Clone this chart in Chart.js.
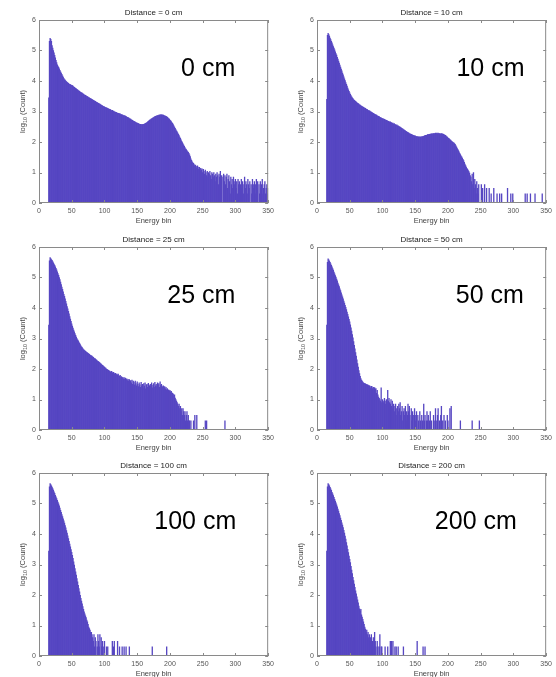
<!DOCTYPE html>
<html>
<head>
<meta charset="utf-8">
<script src="https://cdn.jsdelivr.net/npm/chart.js@4.4.0/dist/chart.umd.min.js"></script>
<style>
html, body { margin: 0; padding: 0; background: #fff; overflow: hidden; }
#wrap { position: relative; width: 556px; height: 677px; }
canvas { position: absolute; }
</style>
</head>
<body>
<div id="wrap">
  <canvas id="p0" width="278" height="226" style="left:0px;top:0px"></canvas>
  <canvas id="p1" width="278" height="226" style="left:278px;top:0px"></canvas>
  <canvas id="p2" width="278" height="226" style="left:0px;top:227px"></canvas>
  <canvas id="p3" width="278" height="226" style="left:278px;top:227px"></canvas>
  <canvas id="p4" width="278" height="226" style="left:0px;top:453px"></canvas>
  <canvas id="p5" width="278" height="226" style="left:278px;top:453px"></canvas>
</div>
<script>
// first energy bin with counts, every body array starts here
var firstBin = 15;
var xTicks = [0, 50, 100, 150, 200, 250, 300, 350];
var yTicks = [0, 1, 2, 3, 4, 5, 6];

// log10(count) per bin, 0 cm  (bins 15..350)
var counts0cm = [
 3.45, 5.30, 5.40, 5.37, 5.30,
 5.16, 5.08, 5.00, 4.92, 4.84, 4.76, 4.68, 4.60, 4.53, 4.49,
 4.45, 4.40, 4.35, 4.30, 4.26, 4.22, 4.17, 4.13, 4.09, 4.05,
 4.03, 4.00, 3.98, 3.96, 3.94, 3.92, 3.90, 3.89, 3.88, 3.87,
 3.86, 3.85, 3.83, 3.81, 3.79, 3.78, 3.76, 3.74, 3.73, 3.71,
 3.69, 3.68, 3.66, 3.64, 3.63, 3.61, 3.60, 3.58, 3.57, 3.55,
 3.54, 3.53, 3.51, 3.50, 3.49, 3.47, 3.46, 3.45, 3.43, 3.42,
 3.41, 3.40, 3.38, 3.37, 3.36, 3.34, 3.33, 3.32, 3.30, 3.29,
 3.28, 3.27, 3.25, 3.24, 3.23, 3.21, 3.20, 3.19, 3.17, 3.16,
 3.15, 3.14, 3.13, 3.12, 3.11, 3.10, 3.09, 3.08, 3.07, 3.06,
 3.05, 3.03, 3.04, 3.01, 3.01, 2.99, 2.99, 2.97, 2.97, 2.95,
 2.95, 2.94, 2.94, 2.92, 2.92, 2.90, 2.90, 2.89, 2.88, 2.87,
 2.87, 2.86, 2.85, 2.84, 2.82, 2.81, 2.80, 2.79, 2.77, 2.76,
 2.75, 2.73, 2.72, 2.71, 2.69, 2.68, 2.67, 2.65, 2.64, 2.63,
 2.62, 2.61, 2.60, 2.59, 2.58, 2.58, 2.57, 2.57, 2.57, 2.58,
 2.58, 2.59, 2.60, 2.61, 2.63, 2.64, 2.66, 2.68, 2.70, 2.72,
 2.73, 2.75, 2.76, 2.78, 2.79, 2.80, 2.82, 2.83, 2.84, 2.85,
 2.86, 2.87, 2.87, 2.88, 2.88, 2.89, 2.89, 2.89, 2.89, 2.88,
 2.88, 2.87, 2.86, 2.85, 2.84, 2.83, 2.81, 2.79, 2.77, 2.75,
 2.72, 2.70, 2.67, 2.64, 2.61, 2.57, 2.53, 2.49, 2.45, 2.41,
 2.37, 2.33, 2.29, 2.25, 2.21, 2.16, 2.12, 2.07, 2.02, 1.98,
 1.94, 1.90, 1.86, 1.82, 1.78, 1.75, 1.72, 1.69, 1.66, 1.63,
 1.58, 1.52, 1.45, 1.40, 1.35, 1.32, 1.30, 1.26, 1.22, 1.24,
 1.20, 1.15, 1.22, 1.18, 1.10, 1.17, 1.05, 1.14, 1.08, 1.12,
 1.00, 1.10, 1.04, 0.95, 1.08, 1.00, 0.90, 1.04, 0.85, 1.00,
 0.95, 1.04, 0.90, 0.78, 1.00, 0.95, 0.85, 1.00, 0.90, 0.70,
 0.95, 0.85, 1.00, 0.90, 0.60, 0.95, 0.85, 1.04, 0.78, 0.90,
 0.00, 0.85, 0.95, 0.70, 0.90, 0.60, 0.85, 0.95, 0.48, 0.78,
 0.90, 0.70, 0.30, 0.85, 0.60, 0.78, 0.48, 0.85, 0.70, 0.60,
 0.78, 0.48, 0.70, 0.30, 0.78, 0.60, 0.70, 0.00, 0.60, 0.78,
 0.48, 0.70, 0.30, 0.60, 0.85, 0.48, 0.70, 0.60, 0.30, 0.78,
 0.60, 0.48, 0.70, 0.00, 0.60, 0.30, 0.78, 0.48, 0.60, 0.70,
 0.30, 0.60, 0.78, 0.48, 0.70, 0.00, 0.60, 0.30, 0.70, 0.48,
 0.60, 0.78, 0.30, 0.48, 0.60, 0.70, 0.30, 0.48, 0.60, 0.30,
 0.48
];

// 10 cm (bins 15..247) + sparse tail
var counts10cm = [
 3.40, 5.50, 5.56, 5.52, 5.47,
 5.41, 5.36, 5.30, 5.25, 5.19, 5.13, 5.08, 5.02, 4.96, 4.90,
 4.85, 4.78, 4.72, 4.65, 4.59, 4.52, 4.46, 4.39, 4.33, 4.26,
 4.20, 4.14, 4.07, 4.01, 3.95, 3.89, 3.83, 3.77, 3.71, 3.66,
 3.61, 3.56, 3.52, 3.48, 3.45, 3.42, 3.39, 3.37, 3.35, 3.33,
 3.31, 3.29, 3.27, 3.26, 3.24, 3.22, 3.21, 3.19, 3.18, 3.16,
 3.15, 3.14, 3.12, 3.11, 3.10, 3.08, 3.07, 3.06, 3.04, 3.03,
 3.02, 3.01, 2.99, 2.98, 2.97, 2.95, 2.94, 2.93, 2.91, 2.90,
 2.89, 2.88, 2.86, 2.85, 2.84, 2.83, 2.81, 2.80, 2.79, 2.78,
 2.77, 2.76, 2.75, 2.74, 2.73, 2.72, 2.71, 2.70, 2.69, 2.68,
 2.67, 2.65, 2.66, 2.63, 2.64, 2.61, 2.62, 2.59, 2.60, 2.57,
 2.57, 2.55, 2.56, 2.53, 2.53, 2.51, 2.50, 2.49, 2.47, 2.46,
 2.44, 2.43, 2.41, 2.40, 2.38, 2.37, 2.35, 2.34, 2.32, 2.31,
 2.30, 2.28, 2.27, 2.26, 2.25, 2.24, 2.23, 2.22, 2.21, 2.20,
 2.20, 2.19, 2.18, 2.18, 2.17, 2.17, 2.16, 2.17, 2.16, 2.17,
 2.17, 2.18, 2.18, 2.19, 2.20, 2.21, 2.22, 2.22, 2.23, 2.24,
 2.24, 2.25, 2.25, 2.26, 2.26, 2.27, 2.27, 2.27, 2.28, 2.28,
 2.28, 2.29, 2.28, 2.29, 2.28, 2.29, 2.28, 2.28, 2.27, 2.27,
 2.28, 2.26, 2.27, 2.25, 2.24, 2.23, 2.22, 2.20, 2.18, 2.16,
 2.14, 2.12, 2.10, 2.08, 2.06, 2.04, 2.02, 2.00, 1.98, 1.97,
 1.95, 1.92, 1.88, 1.84, 1.80, 1.76, 1.72, 1.68, 1.63, 1.59,
 1.55, 1.51, 1.47, 1.43, 1.39, 1.33, 1.28, 1.23, 1.18, 1.14,
 1.10, 1.06, 1.03, 0.98, 0.90, 0.85, 0.70, 0.95, 0.60, 1.00,
 0.48, 0.78, 0.60, 0.30, 0.70, 0.48, 0.30, 0.60
];
var tailBins10cm = [251, 253, 256, 259, 263, 266, 270, 275, 279, 282, 291, 296, 299, 318, 321, 326, 333, 344];
var tailVals10cm = [0.60, 0.48, 0.60, 0.48, 0.48, 0.30, 0.48, 0.30, 0.30, 0.30, 0.48, 0.30, 0.30, 0.30, 0.30, 0.30, 0.30, 0.30];

// 25 cm (bins 15..232) + sparse tail
var counts25cm = [
 3.44, 5.55, 5.65, 5.62, 5.59,
 5.56, 5.52, 5.48, 5.44, 5.40, 5.35, 5.30, 5.25, 5.19, 5.13,
 5.07, 5.00, 4.93, 4.85, 4.77, 4.69, 4.61, 4.53, 4.45, 4.38,
 4.30, 4.22, 4.14, 4.05, 3.97, 3.89, 3.81, 3.72, 3.64, 3.56,
 3.48, 3.41, 3.34, 3.28, 3.22, 3.16, 3.10, 3.05, 3.00, 2.96,
 2.92, 2.88, 2.84, 2.80, 2.76, 2.73, 2.70, 2.67, 2.64, 2.62,
 2.60, 2.58, 2.56, 2.55, 2.53, 2.51, 2.50, 2.48, 2.46, 2.45,
 2.43, 2.42, 2.40, 2.38, 2.36, 2.34, 2.33, 2.31, 2.29, 2.27,
 2.25, 2.24, 2.22, 2.20, 2.18, 2.16, 2.14, 2.12, 2.10, 2.08,
 2.06, 2.04, 2.03, 2.00, 1.99, 1.97, 1.96, 1.94, 1.93, 1.91,
 1.90, 1.92, 1.88, 1.87, 1.89, 1.85, 1.84, 1.86, 1.82, 1.83,
 1.80, 1.83, 1.78, 1.76, 1.79, 1.72, 1.75, 1.70, 1.73, 1.68,
 1.72, 1.66, 1.70, 1.64, 1.68, 1.62, 1.66, 1.60, 1.65, 1.58,
 1.62, 1.55, 1.64, 1.50, 1.60, 1.56, 1.48, 1.60, 1.52, 1.45,
 1.58, 1.50, 1.42, 1.55, 1.48, 1.40, 1.56, 1.45, 1.50, 1.38,
 1.52, 1.44, 1.55, 1.35, 1.48, 1.50, 1.40, 1.53, 1.30, 1.46,
 1.50, 1.42, 1.55, 1.38, 1.47, 1.52, 1.40, 1.56, 1.45, 1.50,
 1.42, 1.55, 1.48, 1.52, 1.40, 1.58, 1.46, 1.50, 1.44, 1.40,
 1.45, 1.38, 1.42, 1.35, 1.40, 1.32, 1.36, 1.30, 1.32, 1.28,
 1.30, 1.25, 1.27, 1.22, 1.20, 1.18, 1.12, 1.15, 1.05, 1.00,
 0.95, 0.90, 0.85, 0.78, 0.85, 0.70, 0.78, 0.60, 0.70, 0.48,
 0.70, 0.60, 0.48, 0.60, 0.30, 0.48, 0.60, 0.30, 0.48, 0.30,
 0.30, 0.00, 0.30
];
var tailBins25cm = [236, 238, 241, 254, 256, 284];
var tailVals25cm = [0.30, 0.48, 0.48, 0.30, 0.30, 0.30];

// 50 cm (bins 15..205) + sparse tail
var counts50cm = [
 3.44, 5.50, 5.61, 5.58, 5.54,
 5.50, 5.45, 5.40, 5.35, 5.29, 5.24, 5.18, 5.12, 5.06, 5.01,
 4.95, 4.89, 4.82, 4.76, 4.70, 4.63, 4.57, 4.50, 4.43, 4.37,
 4.30, 4.23, 4.16, 4.09, 4.02, 3.95, 3.87, 3.79, 3.71, 3.63,
 3.55, 3.45, 3.35, 3.24, 3.13, 3.02, 2.90, 2.78, 2.66, 2.54,
 2.42, 2.30, 2.18, 2.06, 1.95, 1.85, 1.76, 1.69, 1.64, 1.60,
 1.57, 1.55, 1.53, 1.52, 1.51, 1.50, 1.49, 1.48, 1.47, 1.46,
 1.45, 1.44, 1.38, 1.43, 1.42, 1.36, 1.40, 1.30, 1.39, 1.34,
 1.36, 1.20, 1.30, 1.15, 1.08, 1.04, 1.00, 0.95, 1.38, 0.90,
 1.00, 0.95, 0.90, 1.04, 0.95, 0.85, 1.00, 0.90, 1.30, 0.95,
 1.04, 0.90, 0.85, 1.00, 0.78, 0.95, 0.70, 0.85, 0.60, 0.78,
 0.85, 0.70, 0.48, 0.78, 0.60, 0.85, 0.70, 0.90, 0.48, 0.60,
 0.78, 0.30, 0.60, 0.70, 0.48, 0.78, 0.30, 0.60, 0.48, 0.85,
 0.60, 0.78, 0.48, 0.00, 0.70, 0.30, 0.60, 0.48, 0.00, 0.70,
 0.48, 0.30, 0.60, 0.00, 0.48, 0.30, 0.00, 0.60, 0.30, 0.00,
 0.48, 0.30, 0.00, 0.85, 0.30, 0.48, 0.00, 0.30, 0.60, 0.30,
 0.48, 0.00, 0.30, 0.60, 0.00, 0.30, 0.00, 0.00, 0.48, 0.00,
 0.30, 0.70, 0.00, 0.30, 0.48, 0.70, 0.00, 0.30, 0.00, 0.48,
 0.78, 0.00, 0.30, 0.00, 0.48, 0.00, 0.30, 0.00, 0.00, 0.48,
 0.30, 0.00, 0.00, 0.70, 0.00, 0.78
];
var tailBins50cm = [219, 237, 248];
var tailVals50cm = [0.30, 0.30, 0.30];

// 100 cm (bins 15..105) + sparse tail
var counts100cm = [
 3.44, 5.55, 5.65, 5.62, 5.58,
 5.54, 5.49, 5.44, 5.38, 5.33, 5.27, 5.22, 5.16, 5.10, 5.05,
 4.99, 4.92, 4.85, 4.78, 4.71, 4.64, 4.57, 4.50, 4.43, 4.36,
 4.28, 4.20, 4.11, 4.03, 3.94, 3.85, 3.76, 3.67, 3.58, 3.49,
 3.40, 3.30, 3.20, 3.09, 2.98, 2.87, 2.76, 2.65, 2.54, 2.43,
 2.32, 2.21, 2.10, 1.99, 1.89, 1.80, 1.71, 1.62, 1.53, 1.45,
 1.38, 1.32, 1.26, 1.18, 1.12, 1.04, 0.95, 0.90, 0.85, 0.78,
 0.78, 0.70, 0.60, 0.48, 0.70, 0.30, 0.60, 0.48, 0.00, 0.30,
 0.70, 0.48, 0.30, 0.70, 0.00, 0.60, 0.30, 0.48, 0.00, 0.30,
 0.48, 0.00, 0.00, 0.30, 0.00, 0.30
];
var tailBins100cm = [112, 114, 115, 120, 123, 127, 130, 133, 138, 173, 195];
var tailVals100cm = [0.48, 0.30, 0.48, 0.48, 0.30, 0.30, 0.30, 0.30, 0.30, 0.30, 0.30];

// 200 cm (bins 15..99) + sparse tail
var counts200cm = [
 3.44, 5.55, 5.65, 5.62, 5.58,
 5.53, 5.48, 5.43, 5.37, 5.32, 5.26, 5.20, 5.14, 5.08, 5.02,
 4.96, 4.89, 4.82, 4.75, 4.67, 4.60, 4.52, 4.45, 4.37, 4.29,
 4.21, 4.12, 4.03, 3.93, 3.83, 3.72, 3.61, 3.50, 3.39, 3.28,
 3.17, 3.06, 2.94, 2.82, 2.70, 2.58, 2.47, 2.36, 2.25, 2.14,
 2.04, 1.94, 1.84, 1.74, 1.64, 1.55, 1.48, 1.53, 1.35, 1.28,
 1.20, 1.12, 1.04, 0.95, 0.88, 0.78, 0.85, 0.70, 0.78, 0.60,
 0.70, 0.48, 0.60, 0.70, 0.30, 0.48, 0.60, 0.30, 0.78, 0.48,
 0.30, 0.00, 0.48, 0.30, 0.00, 0.30, 0.70, 0.00, 0.30, 0.30
];
var tailBins200cm = [104, 108, 112, 114, 116, 119, 121, 124, 132, 153, 162, 165];
var tailVals200cm = [0.30, 0.30, 0.48, 0.48, 0.48, 0.30, 0.30, 0.30, 0.30, 0.48, 0.30, 0.30];

var distances = ['0 cm', '10 cm', '25 cm', '50 cm', '100 cm', '200 cm'];

var panels = [
  { canvas: 'p0', body: counts0cm,   tb: [],            tv: [],            labelBin: 217 },
  { canvas: 'p1', body: counts10cm,  tb: tailBins10cm,  tv: tailVals10cm,  labelBin: 213 },
  { canvas: 'p2', body: counts25cm,  tb: tailBins25cm,  tv: tailVals25cm,  labelBin: 196 },
  { canvas: 'p3', body: counts50cm,  tb: tailBins50cm,  tv: tailVals50cm,  labelBin: 212 },
  { canvas: 'p4', body: counts100cm, tb: tailBins100cm, tv: tailVals100cm, labelBin: 176 },
  { canvas: 'p5', body: counts200cm, tb: tailBins200cm, tv: tailVals200cm, labelBin: 180 }
];

var FONT = '"Liberation Sans", Arial, Helvetica, sans-serif';
Chart.defaults.font.family = FONT;

function toPoints(body, tb, tv) {
  var pts = [];
  for (var i = 0; i < body.length; i++) pts.push({ x: firstBin + i, y: body[i] });
  for (var j = 0; j < tb.length; j++) pts.push({ x: tb[j], y: tv[j] });
  return pts;
}

// box, inward ticks, titles and the big distance label
var deco = {
  id: 'deco',
  afterDraw: function (chart, args, opts) {
    var ctx = chart.ctx, a = chart.chartArea;
    var xs = chart.scales.x, ys = chart.scales.y;
    ctx.save();
    ctx.strokeStyle = '#8a8a8a';
    ctx.lineWidth = 1;
    ctx.strokeRect(a.left + 0.5, a.top + 0.5, a.right - a.left - 1, a.bottom - a.top - 1);
    ctx.beginPath();
    xTicks.forEach(function (t) {
      var px = Math.round(xs.getPixelForValue(t)) + 0.5;
      ctx.moveTo(px, a.bottom); ctx.lineTo(px, a.bottom - 3);
      ctx.moveTo(px, a.top); ctx.lineTo(px, a.top + 3);
    });
    yTicks.forEach(function (t) {
      var py = Math.round(ys.getPixelForValue(t)) + 0.5;
      ctx.moveTo(a.left, py); ctx.lineTo(a.left + 3, py);
      ctx.moveTo(a.right, py); ctx.lineTo(a.right - 3, py);
    });
    ctx.stroke();

    var cx = (a.left + a.right) / 2;
    ctx.fillStyle = '#222';
    ctx.textAlign = 'center';
    ctx.textBaseline = 'middle';
    ctx.font = '8px ' + FONT;
    ctx.fillText('Distance = ' + opts.dist, cx, a.top - 7);

    ctx.fillStyle = '#444';
    ctx.font = '7.5px ' + FONT;
    ctx.fillText('Energy bin', cx, a.bottom + 18);

    // y label with subscript 10
    var cy = (a.top + a.bottom) / 2;
    ctx.translate(22, cy);
    ctx.rotate(-Math.PI / 2);
    ctx.textAlign = 'left';
    ctx.textBaseline = 'alphabetic';
    var big = '7.5px ' + FONT, small = '5.5px ' + FONT;
    ctx.font = big; var w1 = ctx.measureText('log').width;
    ctx.font = small; var w2 = ctx.measureText('10').width;
    ctx.font = big; var w3 = ctx.measureText(' (Count)').width;
    var x0 = -(w1 + w2 + w3) / 2;
    ctx.font = big; ctx.fillText('log', x0, 3);
    ctx.font = small; ctx.fillText('10', x0 + w1, 5);
    ctx.font = big; ctx.fillText(' (Count)', x0 + w1 + w2, 3);
    ctx.setTransform(1, 0, 0, 1, 0, 0);

    ctx.fillStyle = '#000';
    ctx.font = '25px ' + FONT;
    ctx.textAlign = 'left';
    ctx.textBaseline = 'middle';
    ctx.fillText(opts.dist, xs.getPixelForValue(opts.labelBin), ys.getPixelForValue(4.4));
    ctx.restore();
  }
};

panels.forEach(function (p, i) {
  new Chart(document.getElementById(p.canvas), {
    type: 'bar',
    data: {
      datasets: [{
        data: toPoints(p.body, p.tb, p.tv),
        backgroundColor: '#5646c2',
        borderWidth: 0,
        barPercentage: 1,
        categoryPercentage: 1
      }]
    },
    options: {
      responsive: false,
      animation: false,
      events: [],
      devicePixelRatio: 1,
      layout: { padding: { top: 20, right: 8, left: 0, bottom: 0 } },
      plugins: {
        legend: { display: false },
        tooltip: { enabled: false },
        deco: { dist: distances[i], labelBin: p.labelBin }
      },
      scales: {
        x: {
          type: 'linear', min: 0, max: 350, offset: false,
          grid: { display: false, drawTicks: false },
          border: { display: false },
          ticks: { stepSize: 50, padding: 4, color: '#555', font: { size: 7 }, maxRotation: 0, autoSkip: false },
          afterFit: function (s) { s.height = 23; }
        },
        y: {
          min: 0, max: 6,
          grid: { display: false, drawTicks: false },
          border: { display: false },
          ticks: { stepSize: 1, padding: 3, color: '#555', font: { size: 7 } },
          afterFit: function (s) { s.width = 39; }
        }
      }
    },
    plugins: [deco]
  });
});
</script>
</body>
</html>
